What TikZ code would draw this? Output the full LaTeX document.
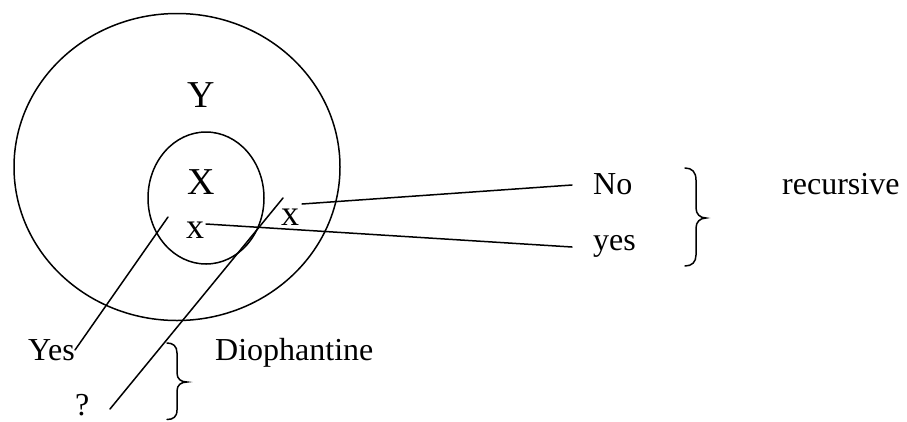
\documentclass[tikz,border=0pt]{standalone}
\usepackage{fontspec}
\setmainfont{Liberation Serif}
\usetikzlibrary{shapes.geometric}
\begin{document}
\begin{tikzpicture}[x=1pt,y=-1pt,
  ln/.style={line width=1.5pt,line cap=round},
  set/.style={draw,ellipse,line width=1.5pt,inner sep=0pt},
  lbl/.style={anchor=base west,inner sep=0pt,font=\fontsize{32}{36}\selectfont},
  big/.style={anchor=base west,inner sep=0pt,font=\fontsize{38}{42}\selectfont},
  mid/.style={anchor=base west,inner sep=0pt,font=\fontsize{36}{40}\selectfont}]
\useasboundingbox (0,0) rectangle (907,421);
% sets
\node[set,minimum width=326pt,minimum height=307pt] (Yset) at (177,167) {};
\node[set,minimum width=116pt,minimum height=132pt] (Xset) at (206,198) {};
% labels in sets
\node[big] (Y) at (187,107) {Y};
\node[big] (X) at (187,194) {X};
\node[mid] (xin) at (186,238) {x};
\node[mid] (xout) at (281,225) {x};
% right labels
\node[lbl] (no) at (593,194) {No};
\node[lbl] (yes) at (593,250) {yes};
\node[lbl] (rec) at (782,194) {recursive};
% bottom labels
\node[lbl] (Yes) at (28,360) {Yes};
\node[lbl] (dio) at (215,360) {Diophantine};
\node[lbl] (q) at (75,415) {?};
% line end points
\coordinate (a1) at (206,224);
\coordinate (a2) at (572,247);
\coordinate (b1) at (302,204);
\coordinate (b2) at (572,185);
\coordinate (c1) at (168,217);
\coordinate (c2) at (75,350);
\coordinate (d1) at (283,198);
\coordinate (d2) at (110,409);
\draw[ln] (a1) -- (a2);
\draw[ln] (b1) -- (b2);
\draw[ln] (c1) -- (c2);
\draw[ln] (d1) -- (d2);
% braces
\draw[ln] (685,168) .. controls (692,168) and (696,172) .. (696,180) -- (696,208)
  .. controls (696,214) and (700,218) .. (706,218)
  .. controls (700,218) and (696,222) .. (696,228) -- (696,255)
  .. controls (696,262) and (692,266) .. (685,266);
\draw[ln] (167,343) .. controls (173,343) and (177,346) .. (177,353) -- (177,373)
  .. controls (177,379) and (181,382) .. (187,382)
  .. controls (181,382) and (177,385) .. (177,391) -- (177,410)
  .. controls (177,417) and (173,419.5) .. (167,419.5);
\end{tikzpicture}
\end{document}
